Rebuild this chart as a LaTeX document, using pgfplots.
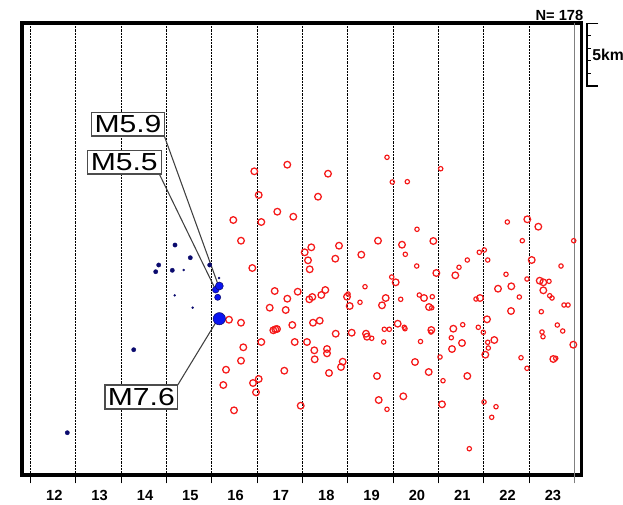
\documentclass[border=0pt]{standalone}
\usepackage{pgfplots}
\pgfplotsset{compat=1.18}
\usepackage{fontspec}
\setmainfont{Liberation Sans}
\usepackage{graphicx}
\definecolor{redc}{RGB}{245,25,25}
\definecolor{navyc}{RGB}{10,10,110}
\definecolor{bluec}{RGB}{10,20,240}
\begin{document}
\begin{tikzpicture}
\path[use as bounding box] (-16.5pt,-21.75pt) rectangle (450.75pt,356.25pt);
\begin{axis}[
  at={(0pt,0pt)}, anchor=south west,
  scale only axis, width=419.775pt, height=339pt,
  xmin=22, xmax=581.7, ymin=23, ymax=475, y dir=reverse,
  axis line style={line width=2.5pt, black},
  xtick={30.3,75.6,121.0,166.3,211.6,256.9,302.3,347.6,392.9,438.3,483.6,528.9},
  xticklabels={12,13,14,15,16,17,18,19,20,21,22,23},
  xtick pos=lower, xticklabel pos=lower,
  ytick=\empty,
  tick align=outside,
  major tick length=6.2pt,
  tick style={black, line width=0.6pt},
  xmajorgrids,
  major grid style={black, line width=0.55pt, dash pattern=on 1.6pt off 0.8pt},
  extra x ticks={574.3},
  extra x tick labels={},
  extra x tick style={major grid style={solid, gray, line width=1pt}, tick style={gray, line width=1pt}},
  xticklabel style={font=\fontsize{11}{12}\selectfont\bfseries, xshift=18pt, yshift=-2pt},
  clip=false,
]
% red aftershocks, larger circles
\addplot[only marks, redc, mark=o, mark size=2.5pt, mark options={draw=redc, line width=0.95pt}] coordinates {
(287.3,164.7) (254.3,171.3) (328,173.7) (258.7,195) (318,196.7) (277.3,211.7) (293.3,216.7)
(233.3,220) (261.3,222) (241,240.7) (378,240.7) (402,244.7) (311.3,247.3) (339,245.7)
(304.7,252.3) (361.3,254.7) (335.3,258.7) (308,260.3) (309.7,269.3) (252.3,268) (395.7,282.3)
(274.7,291) (297.7,291.7) (325.3,290) (321.3,295) (287.3,298.7) (312.3,297) (309.3,299.3)
(347,296.7) (385.7,298) (382,305.3) (349.7,306) (269.7,307.7) (285.7,310) (229,319.7)
(241,322.7) (292.3,325) (313,322.7) (319.7,320.7) (273.3,330.3) (275.3,329.3) (277,329)
(335.7,333.7) (351.7,332.7) (366,333.7) (367,336.7) (397.7,323.7) (261.3,342) (294.7,342)
(307,342) (243.3,347.3) (314.3,350.3) (327,349) (327,353.3) (241,360.7) (314.7,359.3)
(342.7,361.7) (415,362) (341,367) (284.3,370.7) (329,373) (226,369.7) (377,376)
(258.7,379) (253,383) (223.3,385) (256,392.3) (378.7,400) (403.3,396.3) (300.7,405.7)
(234,410.3) (527.3,219.3) (538.3,226.7) (433.3,241) (531.7,260) (436.3,273) (455.3,275.3)
(539.7,280.7) (543.3,282.3) (498,288.7) (511.3,286.3) (543.3,290.3) (424,298) (480,298)
(429,307) (511,311) (487,319.3) (453.3,328.7) (431.3,330) (462,343) (494.3,340)
(452,349) (485.3,354.7) (573.3,344.7) (553.3,359) (428.7,372) (467.3,376) (442,404.3)
};
% red aftershocks, smaller circles
\addplot[only marks, redc, mark=o, mark size=1.65pt, mark options={draw=redc, line width=0.85pt}] coordinates {
(387,157.3) (392.3,182) (407.3,181.7) (417,229.3) (405.3,254.3) (416.7,266) (391.7,277)
(365,286.7) (348,294) (400.7,299.3) (419.3,295) (360,302.3) (371.7,338.3) (384.3,329.3)
(389.3,329.3) (404.3,327.3) (405,328.7) (383.7,342) (420.5,341.5) (387,409.3) (440.7,168.7)
(507.3,222) (522.3,240.7) (573.7,240.7) (479.3,252.3) (484.3,250) (467.3,260) (487.7,260)
(459,267.3) (561,266) (506,274.3) (527,279) (549,281.3) (519.3,297) (549.7,295.7)
(552,298) (432.3,296.7) (476,299) (431.7,307.7) (541.3,311.7) (564,305) (568,305)
(462.7,324.7) (478.3,327.3) (483.3,332.3) (431,332) (557.3,325) (562.7,331) (542,332)
(543,336.7) (451.3,337.7) (487.7,342.3) (488.3,348) (440,357) (521,357.7) (555.7,358.3)
(527,368.3) (443,380.7) (484,402) (496,406.7) (491.7,417.3) (469.3,448.7)
};
% leader lines
\draw[black!75, line width=0.8pt] (axis cs:164.3,136) -- (axis cs:217.5,283);
\draw[black!75, line width=0.8pt] (axis cs:159.3,174) -- (axis cs:214.5,287.5);
\draw[black!75, line width=0.8pt] (axis cs:177.7,385) -- (axis cs:215.5,323);
% blue foreshocks / main shocks
\addplot[only marks, navyc, mark=*, mark size=1.6pt, mark options={fill=navyc, draw=navyc, line width=0.3pt}] coordinates {
(175,245) (190.3,257.7) (158.7,265) (155.7,271.7) (172.3,270.3) (209.7,265) (133.7,349.7) (67.3,432.7)
};
\addplot[only marks, navyc, mark=*, mark size=0.8pt, mark options={fill=navyc, draw=navyc, line width=0.2pt}] coordinates {
(183.7,270) (219,278) (174.7,295.3) (192.7,307.7)
};
\addplot[only marks, bluec, mark=*, mark size=2.3pt, mark options={fill=bluec, draw=navyc, line width=0.4pt}] coordinates {
(217.7,297.3)
};
\addplot[only marks, bluec, mark=*, mark size=2.5pt, mark options={fill=bluec, draw=navyc, line width=0.4pt}] coordinates {
(215.7,289.7)
};
\addplot[only marks, bluec, mark=*, mark size=3pt, mark options={fill=bluec, draw=navyc, line width=0.4pt}] coordinates {
(219.3,286)
};
\addplot[only marks, bluec, mark=*, mark size=4.6pt, mark options={fill=bluec, draw=navyc, line width=0.4pt}] coordinates {
(219.3,318.7)
};
% magnitude labels
\node[draw=black!70, line width=0.8pt, fill=white, minimum width=54.5pt, minimum height=17.5pt, inner sep=0pt, font=\fontsize{18.5}{19}\selectfont] at (axis cs:128,124.3) {\scalebox{1.22}[1]{M5.9}};
\node[draw=black!70, line width=0.8pt, fill=white, minimum width=55.3pt, minimum height=17.5pt, inner sep=0pt, font=\fontsize{18.5}{19}\selectfont] at (axis cs:124.2,162.3) {\scalebox{1.22}[1]{M5.5}};
\node[draw=black!70, line width=0.8pt, fill=white, minimum width=54.5pt, minimum height=18pt, inner sep=0pt, font=\fontsize{18.5}{19}\selectfont] at (axis cs:141.3,397) {\scalebox{1.22}[1]{M7.6}};
% scale bar
\draw[black, line width=0.8pt] (axis cs:598.3,23.3) -- (axis cs:587,23.3) -- (axis cs:587,86) -- (axis cs:598.3,86);
\draw[black, line width=0.7pt] (axis cs:587,35.8) -- (axis cs:590.7,35.8);
\draw[black, line width=0.7pt] (axis cs:587,48.4) -- (axis cs:590.7,48.4);
\draw[black, line width=0.7pt] (axis cs:587,60.9) -- (axis cs:590.7,60.9);
\draw[black, line width=0.7pt] (axis cs:587,73.4) -- (axis cs:590.7,73.4);
\node[anchor=west, inner sep=0pt, font=\fontsize{11.8}{12}\selectfont\bfseries] at (axis cs:592,55) {5km};
\node[anchor=base east, inner sep=0pt, font=\fontsize{11}{12}\selectfont\bfseries] at (axis cs:583.5,20) {N= 178};
\end{axis}
\end{tikzpicture}
\end{document}
